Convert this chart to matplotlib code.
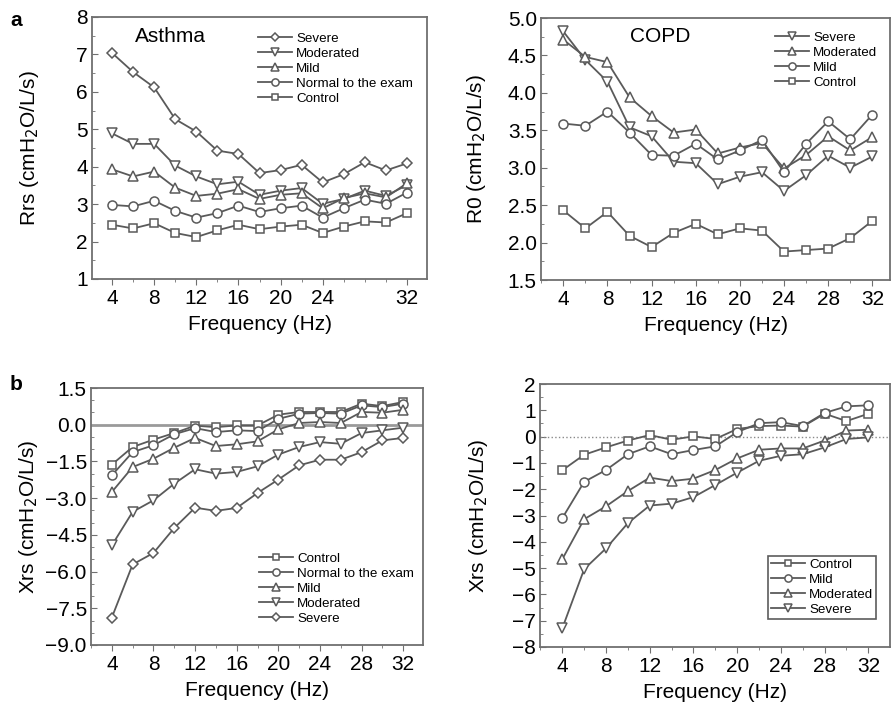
import numpy as np
import matplotlib
matplotlib.use('Agg')
import matplotlib.pyplot as plt
from matplotlib.ticker import MultipleLocator

plt.rcParams['font.family'] = ['Liberation Sans', 'DejaVu Sans']

freq = [4, 6, 8, 10, 12, 14, 16, 18, 20, 22, 24, 26, 28, 30, 32]

# Asthma Rrs
asthma_rrs_severe = [7.04, 6.53, 6.12, 5.27, 4.94, 4.43, 4.34, 3.83, 3.91, 4.05, 3.58, 3.80, 4.12, 3.90, 4.09]
asthma_rrs_moderated = [4.89, 4.61, 4.61, 4.03, 3.74, 3.53, 3.60, 3.25, 3.36, 3.43, 3.01, 3.14, 3.36, 3.22, 3.51]
asthma_rrs_mild = [3.93, 3.74, 3.87, 3.44, 3.22, 3.28, 3.40, 3.14, 3.25, 3.29, 2.89, 3.16, 3.29, 3.18, 3.56]
asthma_rrs_normal = [2.98, 2.94, 3.09, 2.82, 2.64, 2.76, 2.96, 2.79, 2.89, 2.96, 2.64, 2.89, 3.12, 3.01, 3.31]
asthma_rrs_control = [2.45, 2.35, 2.49, 2.23, 2.12, 2.30, 2.45, 2.33, 2.40, 2.45, 2.23, 2.40, 2.54, 2.51, 2.76]

# COPD R0
copd_r0_severe = [4.82, 4.44, 4.15, 3.54, 3.42, 3.08, 3.06, 2.78, 2.88, 2.94, 2.69, 2.90, 3.16, 3.00, 3.15]
copd_r0_moderated = [4.71, 4.48, 4.41, 3.94, 3.69, 3.47, 3.51, 3.19, 3.27, 3.33, 2.99, 3.17, 3.42, 3.23, 3.41]
copd_r0_mild = [3.59, 3.56, 3.75, 3.47, 3.17, 3.16, 3.32, 3.11, 3.23, 3.37, 2.94, 3.32, 3.62, 3.38, 3.71]
copd_r0_control = [2.43, 2.19, 2.41, 2.09, 1.94, 2.13, 2.25, 2.11, 2.19, 2.16, 1.88, 1.90, 1.92, 2.06, 2.29]

# Asthma Xrs
asthma_xrs_control = [-1.63, -0.91, -0.61, -0.34, -0.04, -0.10, -0.03, -0.03, 0.41, 0.52, 0.52, 0.52, 0.86, 0.76, 0.93]
asthma_xrs_normal = [-2.07, -1.12, -0.84, -0.39, -0.14, -0.30, -0.23, -0.26, 0.24, 0.45, 0.48, 0.45, 0.79, 0.72, 0.86]
asthma_xrs_mild = [-2.75, -1.73, -1.39, -0.94, -0.54, -0.87, -0.80, -0.68, -0.19, 0.07, 0.11, 0.07, 0.52, 0.49, 0.61]
asthma_xrs_moderated = [-4.93, -3.56, -3.09, -2.41, -1.82, -2.00, -1.93, -1.70, -1.22, -0.91, -0.71, -0.78, -0.34, -0.23, -0.12]
asthma_xrs_severe = [-7.88, -5.71, -5.24, -4.22, -3.39, -3.52, -3.40, -2.79, -2.24, -1.66, -1.43, -1.43, -1.12, -0.64, -0.54]

# COPD Xrs
copd_xrs_control = [-1.28, -0.69, -0.41, -0.15, 0.06, -0.12, 0.01, -0.09, 0.29, 0.40, 0.42, 0.38, 0.87, 0.59, 0.87]
copd_xrs_mild = [-3.10, -1.72, -1.27, -0.67, -0.37, -0.67, -0.51, -0.37, 0.17, 0.51, 0.55, 0.40, 0.90, 1.15, 1.19]
copd_xrs_moderated = [-4.66, -3.14, -2.65, -2.07, -1.56, -1.69, -1.60, -1.27, -0.83, -0.50, -0.45, -0.45, -0.15, 0.23, 0.26]
copd_xrs_severe = [-7.29, -5.04, -4.25, -3.29, -2.62, -2.55, -2.30, -1.84, -1.37, -0.92, -0.73, -0.67, -0.41, -0.09, -0.03]

W, H = 892, 706
fig = plt.figure(figsize=(W / 100, H / 100), dpi=100)


def px_axes(left, top, right, bottom):
    return fig.add_axes([left / W, 1 - bottom / H, (right - left) / W, (bottom - top) / H])


line_col = '#5a5a5a'
spine_col = '#707070'


def plot_series(ax, y, marker, label, ms=6.5):
    ax.plot(freq, y, color=line_col, lw=1.3, marker=marker, ms=ms,
            mfc='white', mec=line_col, mew=1.1, label=label)


def style(ax, xlim, ylim, ymaj, ymin, yfmt, xlabels, ylabel, ylab_x):
    ax.set_xlim(*xlim)
    ax.set_ylim(*ylim)
    ax.yaxis.set_major_locator(MultipleLocator(ymaj))
    ax.yaxis.set_minor_locator(MultipleLocator(ymin))
    ax.set_xticks(xlabels)
    ax.set_xticklabels([str(v) for v in xlabels])
    ax.xaxis.set_minor_locator(MultipleLocator(2))
    ax.yaxis.set_major_formatter(plt.FuncFormatter(lambda v, p: (yfmt % v).replace('-', '\u2212')))
    for s in ax.spines.values():
        s.set_color(spine_col)
        s.set_linewidth(1.3)
    ax.tick_params(axis='y', which='both', direction='in', color=spine_col, labelsize=15, pad=3)
    ax.tick_params(axis='y', which='major', length=4)
    ax.tick_params(axis='y', which='minor', length=2)
    ax.tick_params(axis='x', which='both', direction='out', color=spine_col, labelsize=15, pad=3)
    ax.tick_params(axis='x', which='major', length=4)
    ax.tick_params(axis='x', which='minor', length=2.5)
    ax.set_xlabel('Frequency (Hz)', fontsize=15, labelpad=5)
    ax.set_ylabel(ylabel, fontsize=15)
    ax.yaxis.set_label_coords(ylab_x, 0.5)


def legend(ax, x, y, frame=False):
    lg = ax.legend(loc='upper left', bbox_to_anchor=(x / W, 1 - y / H), bbox_transform=fig.transFigure,
                   frameon=frame, fontsize=9.6, handlelength=2.6, handletextpad=0.3,
                   labelspacing=0.2, borderpad=0.2, borderaxespad=0, markerscale=0.8)
    if frame:
        lg.get_frame().set_edgecolor('#333333')
        lg.get_frame().set_linewidth(1.2)
        lg.get_frame().set_boxstyle('square', pad=0)
    return lg


# a - Asthma Rrs
ax1 = px_axes(92, 17, 427, 279)
plot_series(ax1, asthma_rrs_severe, 'D', 'Severe', ms=5.5)
plot_series(ax1, asthma_rrs_moderated, 'v', 'Moderated', ms=7.5)
plot_series(ax1, asthma_rrs_mild, '^', 'Mild', ms=7.5)
plot_series(ax1, asthma_rrs_normal, 'o', 'Normal to the exam')
plot_series(ax1, asthma_rrs_control, 's', 'Control', ms=5.5)
style(ax1, (2.1, 33.9), (1, 8), 1, 0.5, '%d', [4, 8, 12, 16, 20, 24, 32],
      'Rrs (cmH$_2$O/L/s)', -0.152)
ax1.text(135 / W, 1 - 36 / H, 'Asthma', transform=fig.transFigure, fontsize=15, va='center')
legend(ax1, 255, 30)

# a - COPD R0
ax2 = px_axes(541, 18, 890, 280)
plot_series(ax2, copd_r0_severe, 'v', 'Severe', ms=7.5)
plot_series(ax2, copd_r0_moderated, '^', 'Moderated', ms=7.5)
plot_series(ax2, copd_r0_mild, 'o', 'Mild')
plot_series(ax2, copd_r0_control, 's', 'Control', ms=5.5)
style(ax2, (1.98, 33.6), (1.5, 5.0), 0.5, 0.25, '%.1f', [4, 8, 12, 16, 20, 24, 28, 32],
      'R0 (cmH$_2$O/L/s)', -0.152)
ax2.text(630 / W, 1 - 36 / H, 'COPD', transform=fig.transFigure, fontsize=15, va='center')
legend(ax2, 772, 29)

# b - Asthma Xrs
ax3 = px_axes(91, 388, 423, 645)
ax3.axhline(0, color='#9a9a9a', lw=2)
plot_series(ax3, asthma_xrs_control, 's', 'Control', ms=5.5)
plot_series(ax3, asthma_xrs_normal, 'o', 'Normal to the exam')
plot_series(ax3, asthma_xrs_mild, '^', 'Mild', ms=7.5)
plot_series(ax3, asthma_xrs_moderated, 'v', 'Moderated', ms=7.5)
plot_series(ax3, asthma_xrs_severe, 'D', 'Severe', ms=5.5)
style(ax3, (2.0, 33.9), (-9, 1.5), 1.5, 0.5, '%.1f', [4, 8, 12, 16, 20, 24, 28, 32],
      'Xrs (cmH$_2$O/L/s)', -0.154)
legend(ax3, 256, 550)

# b - COPD Xrs
ax4 = px_axes(540, 384, 890, 647)
ax4.axhline(0, color='#8a8a8a', lw=1, ls=':')
plot_series(ax4, copd_xrs_control, 's', 'Control', ms=5.5)
plot_series(ax4, copd_xrs_mild, 'o', 'Mild')
plot_series(ax4, copd_xrs_moderated, '^', 'Moderated', ms=7.5)
plot_series(ax4, copd_xrs_severe, 'v', 'Severe', ms=7.5)
style(ax4, (1.96, 33.98), (-8, 2), 1, 0.5, '%d', [4, 8, 12, 16, 20, 24, 28, 32],
      'Xrs (cmH$_2$O/L/s)', -0.143)
legend(ax4, 768, 556, frame=True)

fig.text(10 / W, 1 - 21 / H, 'a', fontsize=15, fontweight='bold', va='center')
fig.text(10 / W, 1 - 384 / H, 'b', fontsize=15, fontweight='bold', va='center')

fig.savefig('out.png', dpi=100)
